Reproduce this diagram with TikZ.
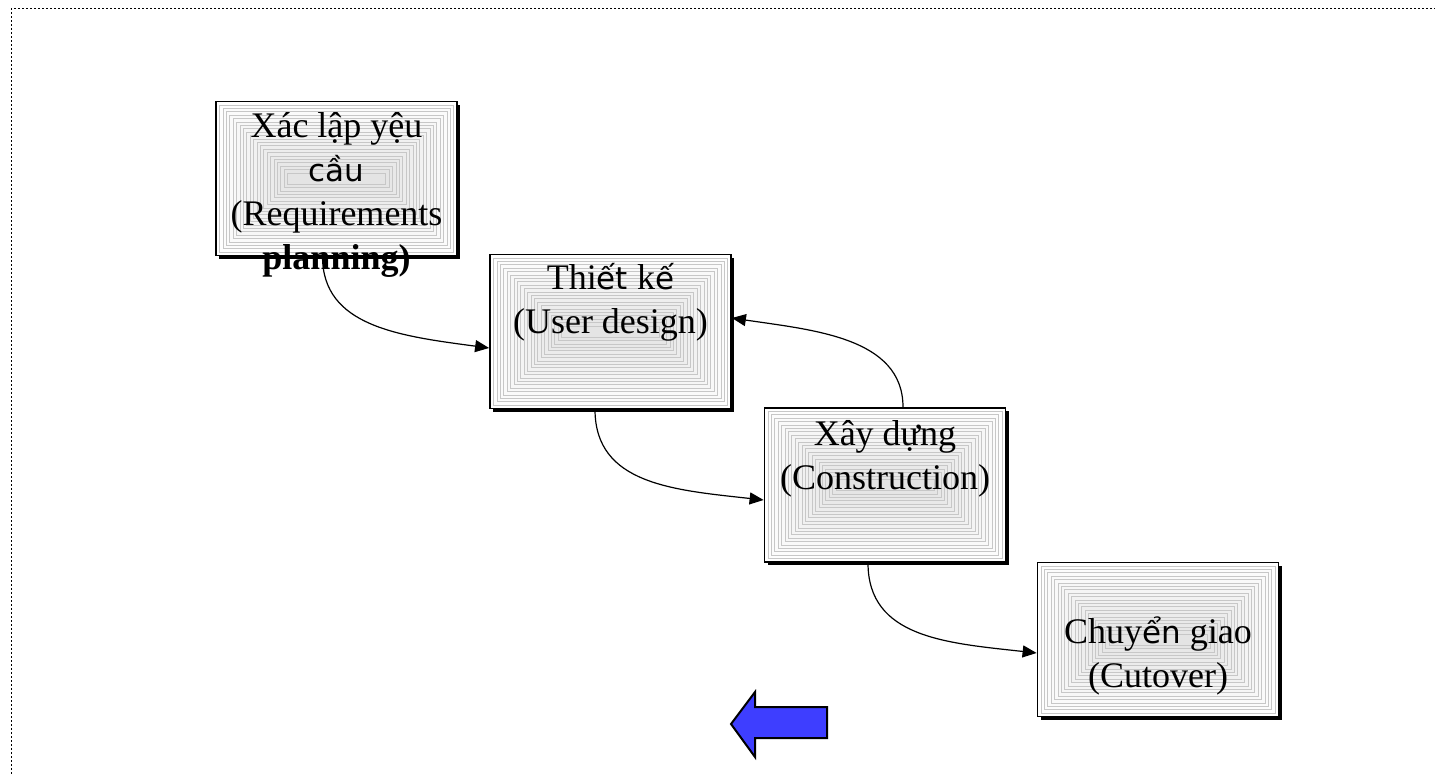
\documentclass[tikz,border=0pt]{standalone}
\usepackage{fontspec}
\setmainfont{Liberation Serif}
\newfontfamily\fb[Scale=0.86]{DejaVu Sans}
\usetikzlibrary{positioning, calc, shadows, arrows.meta}
\definecolor{arrowblue}{RGB}{62,62,255}
\tikzset{
  phase/.style={draw, line width=0.9pt, fill=white, minimum width=120.5pt, minimum height=77pt, inner sep=0pt,
    drop shadow={shadow xshift=1.6pt, shadow yshift=-1.6pt, opacity=1, fill=black},
    path picture={
      \foreach \k [evaluate=\k as \g using \k*0.5] in {1,...,21}
        \draw[black!22, line width=0.3pt, fill=black!\g]
          ($(path picture bounding box.south west)+(\k*1.7pt,\k*1.7pt)$) rectangle
          ($(path picture bounding box.north east)-(\k*1.7pt,\k*1.7pt)$);
    }},
  phasetext/.style={align=center, inner sep=0pt, font=\fontsize{18}{22}\selectfont},
  flow/.style={line width=0.6pt, -{Triangle[length=7pt,width=6pt]}}
}
\begin{document}
\begin{tikzpicture}[x=0.5pt, y=-0.5pt]
    \useasboundingbox (0,0) rectangle (1435,774);
    %cornice tratteggiata
    \draw[line width=0.5pt, dash pattern=on 1pt off 1pt] (11,774) -- (11,9) -- (1435,9);
    %fasi
    \node[phase] (req) at (336.5,178.5) {};
    \node[phase] (des) at (610.5,331.5) {};
    \node[phase] (con) at (885,485) {};
    \node[phase] (cut) at (1158,639.5) {};
    %collegamenti
    \draw[flow] ([xshift=-7pt]req.south) .. controls +(0,70) and +(-90,-12) .. ([yshift=-8.25pt]des.west);
    \draw[flow] ([xshift=-7.75pt]des.south) .. controls +(0,75) and +(-90,-10) .. ([yshift=-7.5pt]con.west);
    \draw[flow] ([xshift=-8.5pt]con.south) .. controls +(0,75) and +(-90,-10) .. ([yshift=-6.75pt]cut.west);
    \draw[flow] ([xshift=9pt]con.north) .. controls +(0,-70) and +(80,12) .. ([yshift=6.75pt]des.east);
    %testi
    \node[phasetext, yshift=-8.25pt] (reqtext) at (req) {Xác lập yệu\\{\fb cầu}\\(Requirements\\\textbf{planning)}};
    \node[phasetext, yshift=14.5pt] (destext) at (des) {Thi{\fb ết} k{\fb ế}\\(User design)};
    \node[phasetext, yshift=13.25pt] (context) at (con) {Xây dựng\\(Construction)};
    \node[phasetext, yshift=-8pt] (cuttext) at (cut) {Chuy{\fb ển} giao\\(Cutover)};
    %freccia blu
    \draw[line width=1pt, fill=arrowblue] (731,724) -- (755,692) -- (755,707) -- (827,707)
        -- (827,738) -- (755,738) -- (755,757) -- cycle;
\end{tikzpicture}
\end{document}
